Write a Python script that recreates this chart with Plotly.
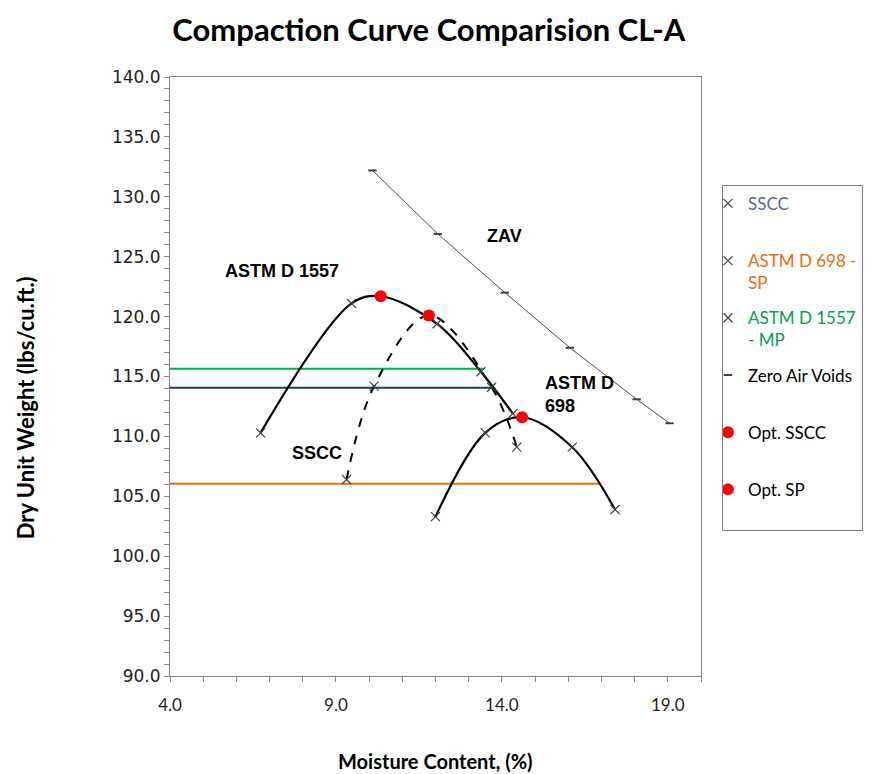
import plotly.graph_objects as go

# ---------------- data ----------------
# SSCC (dashed curve) measured points
sscc_w = [9.32, 10.15, 11.80, 13.69, 14.45]
sscc_d = [106.4, 114.2, 120.1, 114.1, 109.1]

# ASTM D 698 - Standard Proctor
sp_w = [12.00, 13.50, 16.12, 17.41]
sp_d = [103.3, 110.3, 109.1, 103.9]

# ASTM D 1557 - Modified Proctor
mp_w = [6.73, 9.47, 12.05, 13.37, 14.33]
mp_d = [110.3, 121.1, 119.4, 115.4, 111.9]

# Zero air voids
zav_w = [10.1, 12.07, 14.09, 16.05, 18.06, 19.05]
zav_d = [132.2, 126.9, 122.0, 117.4, 113.1, 111.1]

# Optimum points
opt_sscc_w = [11.80]
opt_sscc_d = [120.1]
opt_sp_w = [10.35, 14.61]
opt_sp_d = [121.7, 111.6]

# 95 % compaction reference lines (level, end moisture)
ref_names = ["ASTM D 1557", "SSCC", "ASTM D 698"]
ref_level = [115.65, 114.07, 106.05]
ref_end = [13.44, 13.69, 16.96]
ref_colors = ["#00B050", "#1F3A6E", "#E9700F"]

x_range = [4, 20]
y_range = [90, 140]

# ---------------- figure ----------------
fig = go.Figure()

for name, lvl, end, col in zip(ref_names, ref_level, ref_end, ref_colors):
    fig.add_trace(go.Scatter(x=[x_range[0], end], y=[lvl, lvl], mode="lines",
                             line=dict(color=col, width=2), showlegend=False,
                             hoverinfo="skip"))

# smooth curves (pass through the optimum points)
def merged(ws, ds, ow, od):
    pts = sorted(list(zip(ws, ds)) + list(zip(ow, od)))
    return [p[0] for p in pts], [p[1] for p in pts]

cx, cy = merged(mp_w, mp_d, [opt_sp_w[0]], [opt_sp_d[0]])
fig.add_trace(go.Scatter(x=cx, y=cy, mode="lines", line=dict(color="black", width=2.2, shape="spline", smoothing=1.0),
                         showlegend=False, hoverinfo="skip"))
cx, cy = merged(sp_w, sp_d, [opt_sp_w[1]], [opt_sp_d[1]])
fig.add_trace(go.Scatter(x=cx, y=cy, mode="lines", line=dict(color="black", width=2.2, shape="spline", smoothing=1.0),
                         showlegend=False, hoverinfo="skip"))
fig.add_trace(go.Scatter(x=sscc_w, y=sscc_d, mode="lines",
                         line=dict(color="black", width=2, dash="dash", shape="spline", smoothing=1.0),
                         showlegend=False, hoverinfo="skip"))
fig.add_trace(go.Scatter(x=zav_w, y=zav_d, mode="lines", line=dict(color="#4A4A4A", width=1),
                         showlegend=False, hoverinfo="skip"))

xmark = dict(symbol="x-thin-open", size=9, color="#404040", line=dict(color="#404040", width=1.2))

def lname(text, color):
    return f"<span style='color:{color}'>{text}</span>"

fig.add_trace(go.Scatter(x=sscc_w, y=sscc_d, mode="markers", marker=xmark,
                         name=lname("SSCC", "#4F6A8F") + "<br> ", legendgroup="a"))
fig.add_trace(go.Scatter(x=sp_w, y=sp_d, mode="markers", marker=xmark,
                         name=lname("ASTM D 698 -", "#E46C0A") + "<br>" + lname("SP", "#E46C0A"), legendgroup="b"))
fig.add_trace(go.Scatter(x=mp_w, y=mp_d, mode="markers", marker=xmark,
                         name=lname("ASTM D 1557", "#00A050") + "<br>" + lname("- MP", "#00A050"), legendgroup="c"))
fig.add_trace(go.Scatter(x=zav_w, y=zav_d, mode="markers",
                         marker=dict(symbol="line-ew", size=6, color="#3A3F5C", line=dict(color="#3A3F5C", width=2)),
                         name="Zero Air Voids<br> ", legendgroup="d"))
fig.add_trace(go.Scatter(x=opt_sscc_w, y=opt_sscc_d, mode="markers",
                         marker=dict(symbol="circle", size=12, color="#FF0000"),
                         name="Opt. SSCC<br> ", legendgroup="e"))
fig.add_trace(go.Scatter(x=opt_sp_w, y=opt_sp_d, mode="markers",
                         marker=dict(symbol="circle", size=12, color="#FF0000"),
                         name="Opt. SP<br> ", legendgroup="f"))

ann_font = dict(family="Liberation Sans, Arial", size=18, color="black")
fig.add_annotation(x=7.37, y=123.8, text="<b>ASTM D 1557</b>", showarrow=False, font=ann_font)
fig.add_annotation(x=14.09, y=126.7, text="<b>ZAV</b>", showarrow=False, font=ann_font)
fig.add_annotation(x=15.24, y=113.5, text="<b>ASTM D<br>698</b>", showarrow=False, font=ann_font,
                   xanchor="left", align="left")
fig.add_annotation(x=8.43, y=108.6, text="<b>SSCC</b>", showarrow=False, font=ann_font)

# axis titles as annotations
fig.add_annotation(xref="paper", yref="paper", x=-0.273, y=0.447, xanchor="center", yanchor="middle",
                   text="<b>Dry Unit Weight (lbs/cu.ft.)</b>",
                   textangle=-90, showarrow=False, font=dict(family="Lato", size=22, color="black"))
fig.add_annotation(xref="paper", yref="paper", x=0.5, y=-0.142, xanchor="center", yanchor="middle",
                   text="<b>Moisture Content, (%)</b>",
                   showarrow=False, font=dict(family="Lato", size=20, color="black"))

axis_common = dict(showline=True, linecolor="#868686", linewidth=1, mirror=True,
                   showgrid=False, zeroline=False, ticks="outside", ticklen=5,
                   tickcolor="#868686", tickformat=".1f")

fig.update_xaxes(range=x_range, tick0=4, dtick=5, **axis_common,
                 minor=dict(ticks="outside", dtick=1, ticklen=5, tickcolor="#868686"),
                 tickfont=dict(family="Lato", size=17, color="#222222"), ticklabelstandoff=9)
fig.update_yaxes(range=y_range, tick0=90, dtick=5, **axis_common,
                 minor=dict(ticks="outside", dtick=1, ticklen=5, tickcolor="#868686"),
                 tickfont=dict(family="DejaVu Sans", size=17, color="#222222"))

# the page body adds an 8 px offset, so margins are compensated
fig.update_layout(
    width=875, height=774,
    margin=dict(l=162, r=182, t=69, b=106, autoexpand=False),
    paper_bgcolor="white", plot_bgcolor="white",
    title=dict(text="<b>Compaction Curve Comparision CL-A</b>", x=0.481, xanchor="center",
               y=1 - 22 / 774, yanchor="middle", yref="container",
               font=dict(family="Lato", size=31, color="black")),
    legend=dict(x=1.0395, xanchor="left", y=0.82, yanchor="top",
                bordercolor="#7F7F7F", borderwidth=1, bgcolor="white",
                font=dict(family="Lato", size=17, color="black"),
                valign="top", traceorder="grouped", tracegroupgap=10, indentation=-15),
    showlegend=True,
)

fig.write_html("out.html")
